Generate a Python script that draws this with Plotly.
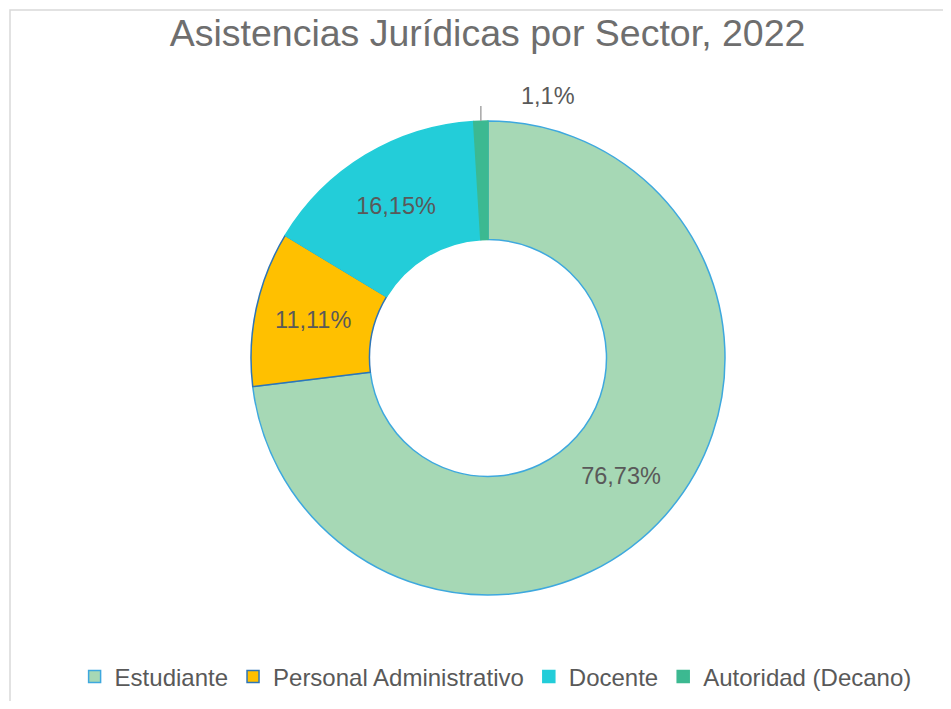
import math
import plotly.graph_objects as go

categories = ["Estudiante", "Personal Administrativo", "Docente", "Autoridad (Decano)"]
counts = [76, 11, 16, 1]
fill_colors = ["#a6d8b5", "#ffc000", "#23cdd9", "#3cb991"]
line_colors = ["#3ea8de", "#2e75b6", "#23cdd9", "#3cb991"]

OFF = 8  # browser body margin
W, H = 951 - 2 * OFF, 709 - 2 * OFF
cx, cy, R = 488 - OFF, 358 - OFF, 237

total = sum(counts)
labels_txt = [f"{v},{round(100 * v / total)}%" for v in counts]
inside_text = labels_txt[:3] + [""]

fig = go.Figure(go.Pie(
    labels=categories,
    values=counts,
    hole=0.5,
    sort=False,
    direction="clockwise",
    rotation=0,
    marker=dict(colors=fill_colors, line=dict(color=line_colors, width=1.5)),
    text=inside_text,
    textinfo="text",
    textposition="inside",
    insidetextorientation="horizontal",
    textfont=dict(family="Liberation Sans, Arial, sans-serif", size=23.5, color="#595959"),
    domain=dict(x=[cx / W - 0.3, cx / W + 0.3], y=[1 - (cy + R) / H, 1 - (cy - R) / H]),
    showlegend=True,
))

# leader line + outside label for the tiny slice, derived from the data
cum_before = sum(counts[:3])
mid_frac = (cum_before + counts[3] / 2) / total
ang = 2 * math.pi * mid_frac
lx = cx + R * math.sin(ang)
ly_in = cy - R * math.cos(ang)

fig.update_layout(
    width=W, height=H,
    margin=dict(l=0, r=0, t=0, b=0),
    paper_bgcolor="white",
    font=dict(family="Liberation Sans, Arial, sans-serif", color="#595959"),
    title=dict(text="Asistencias Jurídicas por Sector, 2022", x=cx / W - 0.0005, xanchor="center",
               y=1 - (33 - OFF) / H, yanchor="middle",
               font=dict(size=37.5, color="#6e6e6e", family="Liberation Sans, Arial, sans-serif")),
    legend=dict(orientation="h", x=0.5215, xanchor="center", y=1 - (677 - OFF) / H, yanchor="middle",
                font=dict(size=24, color="#595959"), traceorder="normal"),
    annotations=[dict(text=labels_txt[3], x=(548 - OFF) / W, y=1 - (96 - OFF) / H, xref="paper", yref="paper",
                      xanchor="center", yanchor="middle",
                      showarrow=False, font=dict(size=23.5, color="#595959"))],
    shapes=[
        dict(type="rect", xref="paper", yref="paper", x0=(10 - OFF) / W, x1=1.02, y0=-0.02, y1=1 - (10 - OFF) / H,
             line=dict(color="#d9d9d9", width=1.5), fillcolor="rgba(0,0,0,0)", layer="below"),
        dict(type="line", xref="paper", yref="paper", x0=lx / W, x1=lx / W,
             y0=1 - ly_in / H, y1=1 - (ly_in - 15) / H, line=dict(color="#a6a6a6", width=1.5)),
    ],
)

fig.write_html("out.html")
